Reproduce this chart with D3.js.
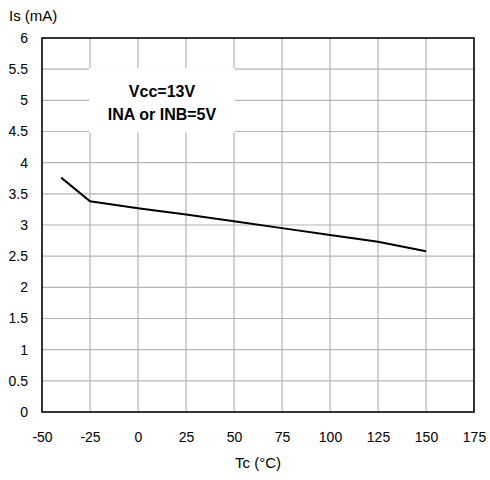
<!DOCTYPE html>
<html>
<head>
<meta charset="utf-8">
<script src="https://cdn.jsdelivr.net/npm/d3@7"></script>
<style>
  body { margin: 0; background: #fff; }
  #graph-container { width: 490px; height: 480px; }
  text { font-family: "Liberation Sans", Arial, sans-serif; fill: #000; }
</style>
</head>
<body>
<div id="graph-container"></div>
<script>
// readings (Tc in degC, Is in mA)
const tempC = [-40, -25, 0, 25, 50, 75, 100, 125, 150];
const supplyCurrent = [3.76, 3.38, 3.27, 3.17, 3.06, 2.95, 2.84, 2.73, 2.58];

const xTicks = [-50, -25, 0, 25, 50, 75, 100, 125, 150, 175];
const yTicks = [0, 0.5, 1, 1.5, 2, 2.5, 3, 3.5, 4, 4.5, 5, 5.5, 6];
const noteLines = ["Vcc=13V", "INA or INB=5V"];

const width = 490;
const height = 480;
const margin = { top: 38, right: 16, bottom: 68, left: 42 };
const innerWidth = width - margin.left - margin.right;
const innerHeight = height - margin.top - margin.bottom;

const xScale = d3.scaleLinear()
    .domain([-50, 175])
    .range([0, innerWidth]);

const yScale = d3.scaleLinear()
    .domain([0, 6])
    .range([innerHeight, 0]);

const root = d3.select("#graph-container")
    .append("svg")
    .attr("width", width)
    .attr("height", height);

const svg = root.append("g")
    .attr("transform", `translate(${margin.left}, ${margin.top})`);

// grid
svg.append("g")
    .selectAll("line")
    .data(xTicks.slice(1, -1))
    .join("line")
    .attr("x1", d => xScale(d)).attr("x2", d => xScale(d))
    .attr("y1", 0).attr("y2", innerHeight)
    .attr("stroke", "#b4b4b4")
    .attr("stroke-width", 1.2);

svg.append("g")
    .selectAll("line")
    .data(yTicks.slice(1, -1))
    .join("line")
    .attr("x1", 0).attr("x2", innerWidth)
    .attr("y1", d => yScale(d)).attr("y2", d => yScale(d))
    .attr("stroke", "#b4b4b4")
    .attr("stroke-width", 1.2);

// white box behind the test conditions
svg.append("rect")
    .attr("x", xScale(-25) - 1)
    .attr("y", yScale(5.5) - 1)
    .attr("width", xScale(50) - xScale(-25) + 2)
    .attr("height", yScale(4.5) - yScale(5.5) + 2)
    .attr("fill", "#fff");

svg.append("g")
    .selectAll("text")
    .data(noteLines)
    .join("text")
    .attr("x", (xScale(-25) + xScale(50)) / 2)
    .attr("y", (d, i) => yScale(5) - 3 + i * 22.5)
    .attr("text-anchor", "middle")
    .style("font-size", "16px")
    .style("font-weight", "bold")
    .text(d => d);

// frame
svg.append("rect")
    .attr("width", innerWidth)
    .attr("height", innerHeight)
    .attr("fill", "none")
    .attr("stroke", "#000")
    .attr("stroke-width", 1.6);

// axes (labels only, the frame draws the lines)
const xAxis = d3.axisBottom(xScale)
    .tickValues(xTicks)
    .tickSize(0)
    .tickPadding(20)
    .tickFormat(d => String(d));

const yAxis = d3.axisLeft(yScale)
    .tickValues(yTicks)
    .tickSize(0)
    .tickPadding(14)
    .tickFormat(d => String(d));

svg.append("g")
    .attr("id", "xAxis")
    .attr("transform", `translate(0, ${innerHeight})`)
    .call(xAxis)
    .call(g => g.select(".domain").remove())
    .selectAll("text")
    .style("font-size", "14px");

svg.append("g")
    .attr("id", "yAxis")
    .call(yAxis)
    .call(g => g.select(".domain").remove())
    .selectAll("text")
    .style("font-size", "14px");

// curve
const line = d3.line()
    .x((d, i) => xScale(tempC[i]))
    .y(d => yScale(d));

svg.append("path")
    .datum(supplyCurrent)
    .attr("d", line)
    .attr("fill", "none")
    .attr("stroke", "#000")
    .attr("stroke-width", 2);

// titles
root.append("text")
    .attr("x", 9)
    .attr("y", 21)
    .style("font-size", "15px")
    .text("Is (mA)");

root.append("text")
    .attr("x", margin.left + innerWidth / 2)
    .attr("y", 468)
    .attr("text-anchor", "middle")
    .style("font-size", "15px")
    .text("Tc (°C)");
</script>
</body>
</html>
